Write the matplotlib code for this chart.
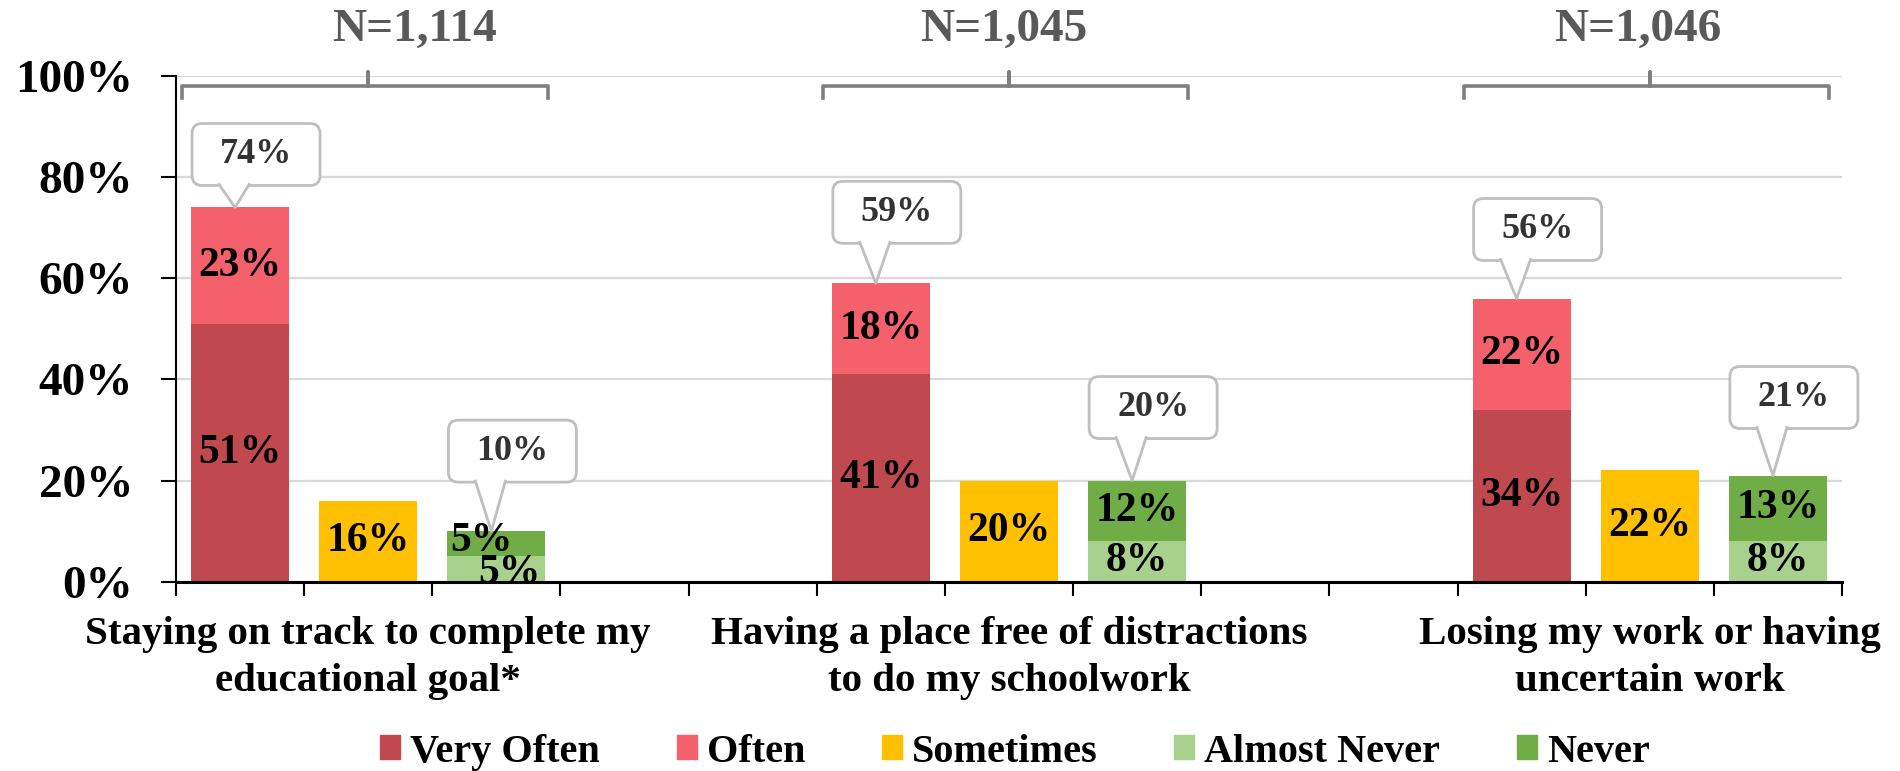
import matplotlib
matplotlib.use("Agg")
import matplotlib.pyplot as plt
from matplotlib.patches import FancyBboxPatch, Polygon, Patch
from matplotlib.transforms import IdentityTransform
from matplotlib.lines import Line2D

plt.rcParams['font.family'] = ['Liberation Serif', 'DejaVu Serif']
plt.rcParams['font.weight'] = 'bold'

# ---------------- data ----------------
groups = ["Staying on track to complete my\neducational goal*",
          "Having a place free of distractions\nto do my schoolwork",
          "Losing my work or having\nuncertain work"]
n_labels = ["N=1,114", "N=1,045", "N=1,046"]
very_often = [51, 41, 34]
often = [23, 18, 22]
sometimes = [16, 20, 22]
almost_never = [5, 8, 8]
never = [5, 12, 13]
often_total = [74, 59, 56]
never_total = [10, 20, 21]
series_names = ["Very Often", "Often", "Sometimes", "Almost Never", "Never"]
yticks = [0, 20, 40, 60, 80, 100]

# ---------------- style ----------------
colors = ["#C0494F", "#F4616C", "#FFC000", "#A9D18E", "#70AD47"]
n_slots = 13
bar_w = 0.765
n_x_offsets = [1.36, 0.96, 0.91]
callout_gap_px = [[22, 49], [40, 42], [38, 47]]

W, H = 1900, 771
fig = plt.figure(figsize=(W / 100, H / 100), dpi=100)
ax = fig.add_axes([176 / W, (H - 581.7) / H, 1666 / W, 505.7 / H])
ax.set_xlim(-0.5, n_slots - 0.5)
ax.set_ylim(0, 100)

lab_fs = 30
for g in range(3):
    base = 5 * g
    ax.bar(base, very_often[g], bar_w, color=colors[0], zorder=3)
    ax.bar(base, often[g], bar_w, bottom=very_often[g], color=colors[1], zorder=3)
    ax.bar(base + 1, sometimes[g], bar_w, color=colors[2], zorder=3)
    ax.bar(base + 2, almost_never[g], bar_w, color=colors[3], zorder=3)
    ax.bar(base + 2, never[g], bar_w, bottom=almost_never[g], color=colors[4], zorder=3)

    ax.text(base, very_often[g] / 2, f"{very_often[g]}%", ha='center', va='center',
            fontsize=lab_fs, zorder=4)
    ax.text(base, very_often[g] + often[g] / 2, f"{often[g]}%", ha='center', va='center',
            fontsize=lab_fs, zorder=4)
    ax.text(base + 1, sometimes[g] / 2, f"{sometimes[g]}%", ha='center', va='center',
            fontsize=lab_fs, zorder=4)
    if g == 0:
        ax.text(base + 2 - 0.12, almost_never[g] + never[g] / 2 + 0.6, f"{never[g]}%",
                ha='center', va='center', fontsize=lab_fs, zorder=4, clip_on=False)
        ax.text(base + 2 + 0.1, almost_never[g] / 2 - 0.8, f"{almost_never[g]}%",
                ha='center', va='center', fontsize=lab_fs, zorder=4, clip_on=False)
    else:
        ax.text(base + 2, almost_never[g] / 2, f"{almost_never[g]}%", ha='center', va='center',
                fontsize=lab_fs, zorder=4)
        ax.text(base + 2, almost_never[g] + never[g] / 2, f"{never[g]}%", ha='center',
                va='center', fontsize=lab_fs, zorder=4)

    # bracket
    x0, x1, cx = base - 0.45, base + 2.4, base + 1.0
    ax.plot([x0, x0, cx, cx, cx, x1, x1], [95.6, 98, 98, 100.8, 98, 98, 95.6],
            color='#7F7F7F', lw=2.6, clip_on=False, solid_joinstyle='round', zorder=5)
    ax.text(base + n_x_offsets[g], 109.1, n_labels[g], ha='center', va='center',
            fontsize=34, color='#595959', clip_on=False)

    # category label
    ax.text(base + 1, -0.15, groups[g], transform=ax.get_xaxis_transform(),
            ha='center', va='center', fontsize=29.5, linespacing=1.36)


def callout(xc, top, text, gap):
    bl, ty = ax.transData.transform((xc - bar_w / 2, top))
    tx = bl + 44
    bx0, by0 = bl + 1, ty + gap
    bw, bh = 128, 62
    box = FancyBboxPatch((bx0, by0), bw, bh, boxstyle="round,pad=0,rounding_size=10",
                         fc='white', ec='#BFBFBF', lw=2, transform=IdentityTransform(),
                         clip_on=False, zorder=6)
    fig.add_artist(box)
    tri = Polygon([(tx - 16, by0 + 2.5), (tx, ty), (tx + 14, by0 + 2.5)], closed=True,
                  fc='white', ec='none', transform=IdentityTransform(), zorder=7)
    fig.add_artist(tri)
    ln = Line2D([tx - 16, tx, tx + 14], [by0 + 1, ty, by0 + 1], color='#BFBFBF', lw=2,
                transform=IdentityTransform(), zorder=8)
    fig.add_artist(ln)
    fig.text(bx0 + bw / 2, by0 + bh / 2, text, transform=IdentityTransform(),
             ha='center', va='center', fontsize=26, color='#333333', zorder=9)


for g in range(3):
    callout(5 * g, often_total[g], f"{often_total[g]}%", callout_gap_px[g][0])
    callout(5 * g + 2, never_total[g], f"{never_total[g]}%", callout_gap_px[g][1])

# axes styling
ax.set_yticks(yticks)
ax.set_yticklabels([f"{v}%" for v in yticks], fontsize=34)
ax.set_xticks([i - 0.5 for i in range(n_slots + 1)])
ax.set_xticklabels([])
ax.tick_params(axis='y', length=11, width=1.5, pad=20, direction='out')
ax.tick_params(axis='x', length=10, width=1.5, direction='out')
ax.yaxis.grid(True, color='#D9D9D9', lw=1.6, zorder=0)
ax.set_axisbelow(True)
for s in ['top', 'right']:
    ax.spines[s].set_visible(False)
ax.spines['left'].set_linewidth(1.5)
ax.spines['bottom'].set_linewidth(2.2)
ax.spines['bottom'].set_zorder(5)

handles = [Patch(color=c) for c in colors]
fig.legend(handles, series_names, loc='center', bbox_to_anchor=(1015 / W, 0.0246),
           ncol=5, frameon=False, fontsize=29, handlelength=0.5, handleheight=0.55,
           handletextpad=0.25, columnspacing=1.9)

fig.savefig("out.png", dpi=100)
